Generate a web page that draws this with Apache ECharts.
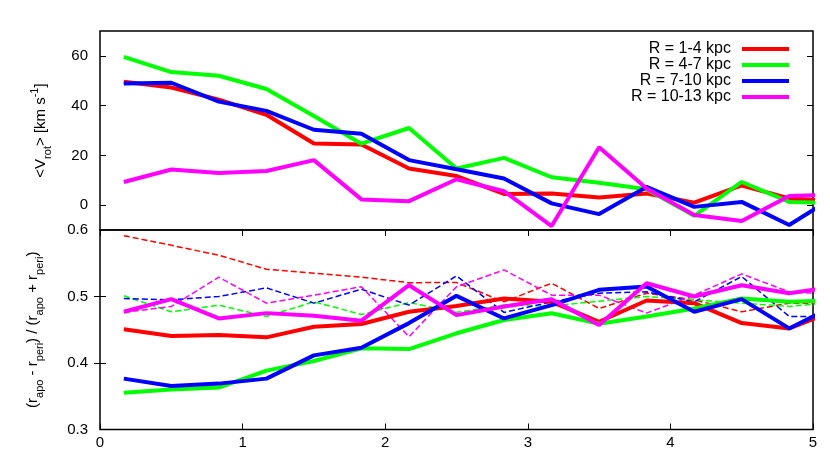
<!DOCTYPE html>
<html>
<head>
<meta charset="utf-8">
<script src="https://cdn.jsdelivr.net/npm/echarts@6/dist/echarts.min.js"></script>
<style>
html,body{margin:0;padding:0;background:#fff;}
#chart{width:830px;height:463px;}
</style>
</head>
<body>
<div id="chart"></div>
<script>
// Radial bin centres (kpc) and values
var xs = [0.167,0.5,0.833,1.167,1.5,1.833,2.167,2.5,2.833,3.167,3.5,3.833,4.167,4.5,4.833,5.167];
var names = ['R = 1-4 kpc','R = 4-7 kpc','R = 7-10 kpc','R = 10-13 kpc'];
var colors = ['#ff0000','#00ff00','#0000ff','#ff00ff'];

// <V_rot> [km/s]
var vrot1 = [49.6,47.3,42.4,36.3,24.8,24.4,14.7,11.7,4.5,4.7,3.1,4.7,1.0,7.9,2.7,1.5];
var vrot2 = [59.6,53.5,52.0,46.7,35.8,24.7,31.0,14.7,19.0,11.2,9.0,6.4,-4.3,9.3,1.3,0.8];
var vrot3 = [48.9,49.2,41.6,37.9,30.3,28.7,18.1,14.4,10.7,0.7,-3.6,7.3,-0.7,1.3,-8.0,4.0];
var vrot4 = [9.3,14.3,12.9,13.7,18.1,2.3,1.6,10.4,5.6,-8.4,23.3,6.7,-4.0,-6.4,3.7,4.2];

// eccentricity (solid)
var ecc1 = [0.4507,0.4406,0.442,0.4386,0.4546,0.4586,0.477,0.4857,0.497,0.492,0.462,0.494,0.49,0.46,0.452,0.48];
var ecc2 = [0.3554,0.360,0.363,0.3885,0.403,0.422,0.421,0.4447,0.4647,0.4747,0.459,0.47,0.482,0.497,0.492,0.494];
var ecc3 = [0.3765,0.3654,0.369,0.3765,0.4115,0.423,0.46,0.501,0.467,0.487,0.51,0.515,0.477,0.496,0.452,0.488];
var ecc4 = [0.477,0.496,0.467,0.475,0.471,0.4636,0.517,0.472,0.485,0.496,0.457,0.52,0.5,0.517,0.505,0.515];

// eccentricity (dashed)
var eccd1 = [0.5915,0.577,0.562,0.541,0.535,0.529,0.5208,0.521,0.492,0.52,0.482,0.505,0.495,0.477,0.49,0.49];
var eccd2 = [0.501,0.477,0.487,0.470,0.492,0.473,0.491,0.4762,0.4872,0.4857,0.493,0.5,0.495,0.49,0.485,0.492];
var eccd3 = [0.497,0.495,0.5,0.513,0.490,0.511,0.487,0.531,0.476,0.492,0.505,0.507,0.492,0.53,0.47,0.47];
var eccd4 = [0.476,0.485,0.529,0.49,0.502,0.5148,0.4396,0.5148,0.540,0.502,0.502,0.475,0.502,0.534,0.507,0.503];

var yTop = [0,20,40,60];
var yBotLabels = [0.3,0.4,0.5,0.6];
var yBotTicks = [0.4,0.5];

function pts(arr){ return arr.map(function(v,i){ return [xs[i], v]; }); }

var FONT = 'Liberation Sans, Arial, Helvetica, sans-serif';
var tickStyle = {show:true, inside:true, length:6, lineStyle:{color:'#000', width:1}};
var labelStyle = {color:'#000', fontSize:15, fontFamily:FONT};

var series = [];
var dashed = [eccd1,eccd2,eccd3,eccd4];
var solidE = [ecc1,ecc2,ecc3,ecc4];
var solidV = [vrot1,vrot2,vrot3,vrot4];
for (var i=0;i<4;i++){
  series.push({type:'line', name:names[i], xAxisIndex:0, yAxisIndex:0, data:pts(solidV[i]),
    showSymbol:false, symbol:'none', lineStyle:{color:colors[i], width:4}, itemStyle:{color:colors[i]}, z:2+i});
}
for (var i=0;i<4;i++){
  series.push({type:'line', name:'d'+i, xAxisIndex:1, yAxisIndex:2, data:pts(dashed[i]),
    showSymbol:false, symbol:'none', lineStyle:{color:colors[i], width:1.5, type:[6,3]}, itemStyle:{color:colors[i]}, z:2});
}
for (var i=0;i<4;i++){
  series.push({type:'line', name:'s'+i, xAxisIndex:1, yAxisIndex:2, data:pts(solidE[i]),
    showSymbol:false, symbol:'none', lineStyle:{color:colors[i], width:4}, itemStyle:{color:colors[i]}, z:3+i});
}

var richName = {
  sub:{fontSize:11, fontFamily:FONT, color:'#000', verticalAlign:'bottom'},
  sup:{fontSize:11, fontFamily:FONT, color:'#000', verticalAlign:'top'}
};

var option = {
  backgroundColor:'#fff',
  animation:false,
  legend:{
    data:names, orient:'vertical', right:36, top:36, align:'right',
    icon:'rect', itemWidth:47, itemHeight:4, itemGap:0,
    textStyle:{color:'#000', fontSize:16, fontFamily:FONT, lineHeight:16, padding:[0,6,0,0]},
    selectedMode:false
  },
  grid:[
    {left:100, top:31, width:713, height:199, show:true, borderColor:'#000', borderWidth:1.5, backgroundColor:'transparent'},
    {left:100, top:230, width:713, height:199.5, show:true, borderColor:'#000', borderWidth:1.5, backgroundColor:'transparent'}
  ],
  xAxis:[
    {type:'value', gridIndex:0, min:0, max:5, axisLine:{show:false}, axisTick:{show:false}, axisLabel:{show:false}, splitLine:{show:false}},
    {type:'value', gridIndex:1, min:0, max:5, interval:1, axisLine:{show:false}, axisTick:tickStyle,
      axisLabel:Object.assign({margin:6}, labelStyle), splitLine:{show:false}},
    {type:'value', gridIndex:1, position:'top', min:0, max:5, interval:1, axisLine:{show:false}, axisTick:tickStyle,
      axisLabel:{show:false}, splitLine:{show:false}}
  ],
  yAxis:[
    {type:'value', gridIndex:0, min:-10, max:70, axisLine:{show:false},
      axisTick:Object.assign({customValues:yTop}, tickStyle),
      axisLabel:Object.assign({customValues:yTop, margin:12}, labelStyle),
      splitLine:{show:false},
      name:'<V{sub|rot}> [km s{sup|-1}]', nameLocation:'middle', nameGap:47,
      nameTextStyle:{color:'#000', fontSize:15, fontFamily:FONT, lineHeight:24, rich:richName}},
    {type:'value', gridIndex:0, position:'right', min:-10, max:70, axisLine:{show:false},
      axisTick:Object.assign({customValues:yTop}, tickStyle), axisLabel:{show:false}, splitLine:{show:false}},
    {type:'value', gridIndex:1, min:0.3, max:0.6, axisLine:{show:false},
      axisTick:Object.assign({customValues:yBotTicks}, tickStyle),
      axisLabel:Object.assign({customValues:yBotLabels, margin:12, formatter:function(v){return v.toFixed(1);}}, labelStyle),
      splitLine:{show:false},
      name:'(r{sub|apo} - r{sub|peri}) / (r{sub|apo} + r{sub|peri})', nameLocation:'middle', nameGap:55,
      nameTextStyle:{color:'#000', fontSize:15, fontFamily:FONT, lineHeight:24, rich:richName}},
    {type:'value', gridIndex:1, position:'right', min:0.3, max:0.6, axisLine:{show:false},
      axisTick:Object.assign({customValues:yBotTicks}, tickStyle), axisLabel:{show:false}, splitLine:{show:false}}
  ],
  series:series
};

var chart = echarts.init(document.getElementById('chart'), null, {renderer:'canvas'});
chart.setOption(option);
</script>
</body>
</html>
